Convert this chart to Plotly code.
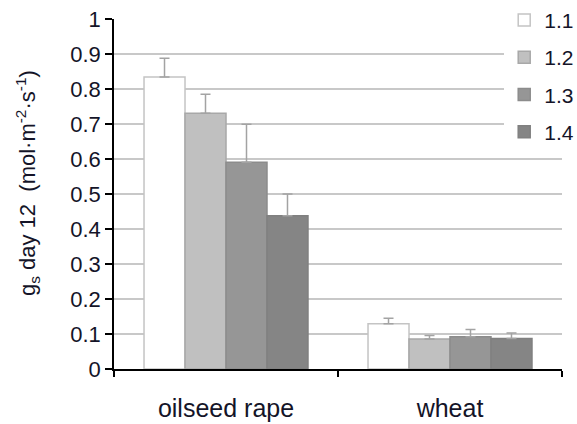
import plotly.graph_objects as go

# Stomatal conductance (gs) on day 12, per crop and treatment
crops = ["oilseed rape", "wheat"]
treatments = ["1.1", "1.2", "1.3", "1.4"]
gs_11 = [0.834, 0.129]
gs_12 = [0.731, 0.086]
gs_13 = [0.591, 0.092]
gs_14 = [0.438, 0.087]
err_11 = [0.054, 0.016]
err_12 = [0.054, 0.010]
err_13 = [0.108, 0.021]
err_14 = [0.062, 0.016]
y_ticks = [0, 0.1, 0.2, 0.3, 0.4, 0.5, 0.6, 0.7, 0.8, 0.9, 1]

values = [gs_11, gs_12, gs_13, gs_14]
errors = [err_11, err_12, err_13, err_14]
fills = ["#ffffff", "#c0c0c0", "#969696", "#858585"]
edges = ["#c4c4c4", "#a8a8a8", "#8c8c8c", "#808080"]

FONT = "Liberation Sans, Arial, sans-serif"
TXT = "#141428"

fig = go.Figure()
for name, vals, errs, fc, ec in zip(treatments, values, errors, fills, edges):
    fig.add_trace(go.Bar(
        name=name,
        x=crops,
        y=vals,
        legendgroup=name,
        marker=dict(color=fc, line=dict(color=ec, width=1.5)),
        error_y=dict(type="data", array=errs, arrayminus=[0] * len(errs),
                     symmetric=False, color="#a3a3a3", thickness=1.5, width=5),
    ))

fig.update_layout(
    width=577, height=424,
    margin=dict(l=114, r=15, t=19, b=55, autoexpand=False),
    paper_bgcolor="white", plot_bgcolor="white",
    barmode="group", bargap=0.268, bargroupgap=0,
    font=dict(family=FONT, color=TXT, size=22),
    showlegend=True,
    legend=dict(
        x=0.871, xanchor="left", y=1.055, yanchor="top",
        bgcolor="white", borderwidth=0,
        font=dict(family=FONT, size=21, color=TXT),
        traceorder="grouped", tracegroupgap=7,
        itemwidth=30,
    ),
    annotations=[dict(
        text="g<sub>s</sub> day 12  (mol·m<sup>-2</sup>·s<sup>-1</sup>)",
        xref="paper", yref="paper", x=-0.193, y=0.53,
        xanchor="center", yanchor="middle", textangle=-90,
        showarrow=False, font=dict(family=FONT, size=22, color=TXT),
    )],
)

fig.update_yaxes(
    range=[0, 1], tickvals=y_ticks, ticktext=[f"{v:g}" for v in y_ticks],
    showgrid=True, gridcolor="#c8c8c8", gridwidth=1.5,
    showline=True, linecolor="#000", linewidth=1.5,
    ticks="outside", ticklen=7, tickwidth=1.5, tickcolor="#000",
    ticklabelstandoff=0, tickfont=dict(size=22, family=FONT, color=TXT),
    zeroline=False, automargin=False,
)
fig.update_xaxes(
    showline=True, linecolor="#000", linewidth=1.5,
    ticks="outside", tickson="boundaries", ticklen=6, tickwidth=1.5, tickcolor="#000",
    ticklabelstandoff=16, tickfont=dict(size=25, family=FONT, color=TXT),
    showgrid=False, automargin=False,
)

fig.write_html("out.html")
